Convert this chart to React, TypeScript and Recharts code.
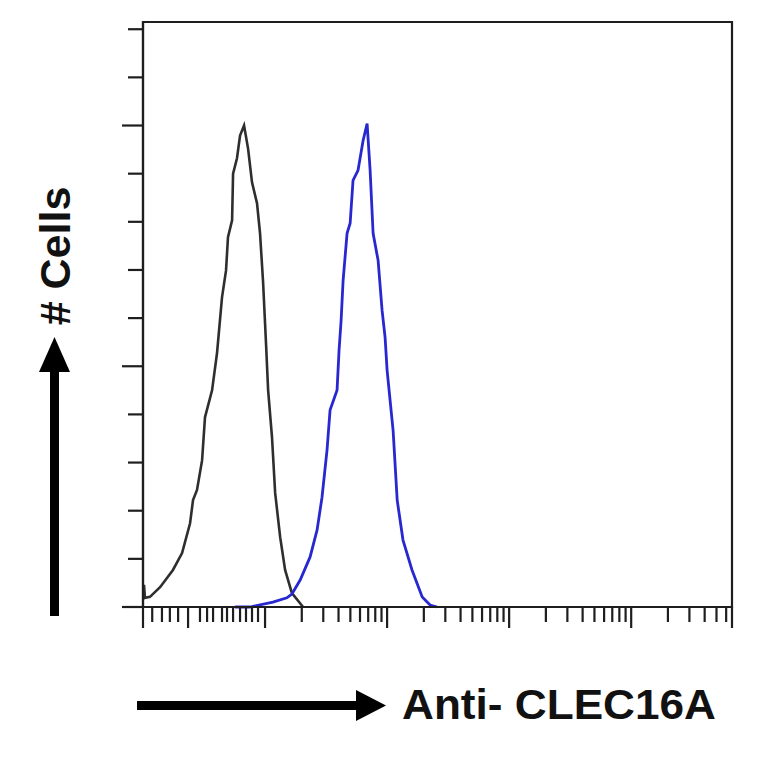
import React from "react";
import { Line, LineChart, ReferenceArea, XAxis, YAxis } from "recharts";

// isotype control (black) histogram
const isotypeIntensity = [
  1, 1.019, 1.038, 1.14, 1.38, 1.76, 2.09, 2.43, 2.57, 2.77, 3.05, 3.22, 3.68, 4.04, 4.44, 4.79, 4.97, 5.37, 5.47,
  5.89, 6.24, 6.73, 7.26, 7.82, 8.6, 9.1, 9.64, 10.2, 10.6, 11.4, 12.1, 13.3, 14.6, 16.6, 20.5
];
const isotypeCount = [
  1.5, 4.6, 1.9, 2.1, 4.1, 7.7, 11.2, 17.4, 22.2, 24.3, 30.5, 39.4, 45.0, 52.7, 64.3, 69.9, 76.8, 80.3, 90.0,
  93.2, 97.9, 100.0, 95.2, 88.2, 83.8, 77.6, 67.4, 54.4, 45.0, 35.3, 23.7, 14.5, 7.7, 2.9, 0
];

// anti-CLEC16A (blue) histogram
const clec16aIntensity = [
  5.68, 7.53, 11.6, 15.1, 16.6, 19.4, 23.4, 26.7, 29.3, 32.2, 34.1, 38.9, 40.4, 42.0, 43.6, 47.0, 49.8, 52.6,
  57.8, 63.6, 68.6, 72.6, 76.8, 84.4, 91.0, 96.3, 100, 112, 121, 135, 160, 194, 225, 257
];
const clec16aCount = [
  0, 0, 1.0, 1.9, 2.7, 5.6, 10.4, 16.0, 22.8, 32.6, 40.9, 45.0, 53.3, 59.5, 67.8, 77.6, 79.7, 88.6, 90.7, 96.9,
  100.4, 90.7, 77.6, 72.0, 61.6, 56.0, 49.2, 36.7, 22.2, 13.9, 7.7, 2.1, 0.4, 0
];

const xTicks = [
  1, 1.19, 1.43, 1.66, 1.94, 2.34, 2.93, 3.35, 3.75, 4.44, 4.88, 5.47, 6.24, 6.98, 7.82, 8.76,
  10, 20, 30, 40, 50, 60, 70, 80, 90,
  100, 200, 300, 400, 500, 600, 700, 800, 900,
  1000, 2000, 3000, 4000, 5000, 6000, 7000, 8000, 9000,
  10000, 20000, 30000, 40000, 50000, 60000, 67000
];
const xMajor = [1, 2.34, 10, 100, 1000, 10000, 67000];
const yTicks = [0, 10, 20, 30, 40, 50, 60, 70, 80, 90, 100, 110, 120];
const yMajor = [0, 50, 100];

const xLabel = "Anti- CLEC16A";
const yLabel = "# Cells";

const isotype = isotypeIntensity.map((x, i) => ({ x, y: isotypeCount[i] }));
const clec16a = clec16aIntensity.map((x, i) => ({ x, y: clec16aCount[i] }));

const AXIS = "#1e1e1e";

const XTick = (props: any) => {
  const { x, y, payload } = props;
  const len = xMajor.includes(payload.value) ? 21 : 15;
  return <line x1={x} x2={x} y1={y} y2={y + len} stroke={AXIS} strokeWidth={2.2} />;
};

const YTick = (props: any) => {
  const { x, y, payload } = props;
  const len = yMajor.includes(payload.value) ? 21 : 15;
  return <line x1={x - len} x2={x} y1={y} y2={y} stroke={AXIS} strokeWidth={2.2} />;
};

export default function App() {
  return (
    <div style={{ position: "absolute", left: 0, top: 0, width: 764, height: 764, background: "#fff" }}>
      <LineChart width={764} height={764} margin={{ top: 22, right: 32, bottom: 127, left: 113 }}>
        <XAxis
          dataKey="x"
          type="number"
          scale="log"
          domain={[1, 67000]}
          allowDataOverflow
          ticks={xTicks}
          interval={0}
          tickSize={0}
          tickMargin={0}
          tickLine={false}
          tickFormatter={() => ""}
          tick={<XTick />}
          height={30}
          axisLine={{ stroke: AXIS, strokeWidth: 2.2 }}
        />
        <YAxis
          type="number"
          domain={[0, 121.5]}
          ticks={yTicks}
          interval={0}
          tickSize={0}
          tickMargin={0}
          tickLine={false}
          tickFormatter={() => ""}
          tick={<YTick />}
          width={30}
          axisLine={{ stroke: AXIS, strokeWidth: 2.2 }}
        />
        <ReferenceArea x1={1} x2={67000} y1={0} y2={121.5} fill="none" stroke={AXIS} strokeWidth={2.2} />
        <Line
          data={isotype}
          dataKey="y"
          type="linear"
          stroke="#2e2e2e"
          strokeWidth={2.6}
          dot={false}
          isAnimationActive={false}
        />
        <Line
          data={clec16a}
          dataKey="y"
          type="linear"
          stroke="#2828d0"
          strokeWidth={2.8}
          dot={false}
          isAnimationActive={false}
        />
      </LineChart>
      <svg
        width={764}
        height={764}
        style={{ position: "absolute", left: 0, top: 0, pointerEvents: "none" }}
      >
        <rect x={50} y={370} width={9} height={246} fill="#000" />
        <polygon points="54.5,337 39,372 70,372" fill="#000" />
        <text
          x={70}
          y={256}
          transform="rotate(-90, 70, 256)"
          textAnchor="middle"
          fontFamily="'Liberation Sans', Arial, sans-serif"
          fontWeight="bold"
          fontSize={43}
          fill="#111"
        >
          {yLabel}
        </text>
        <rect x={137} y={701} width={222} height={9} fill="#000" />
        <polygon points="386,705.5 356,690 356,721" fill="#000" />
        <text
          x={402}
          y={719}
          textLength={314}
          lengthAdjust="spacingAndGlyphs"
          fontFamily="'Liberation Sans', Arial, sans-serif"
          fontWeight="bold"
          fontSize={43}
          fill="#111"
        >
          {xLabel}
        </text>
      </svg>
    </div>
  );
}
